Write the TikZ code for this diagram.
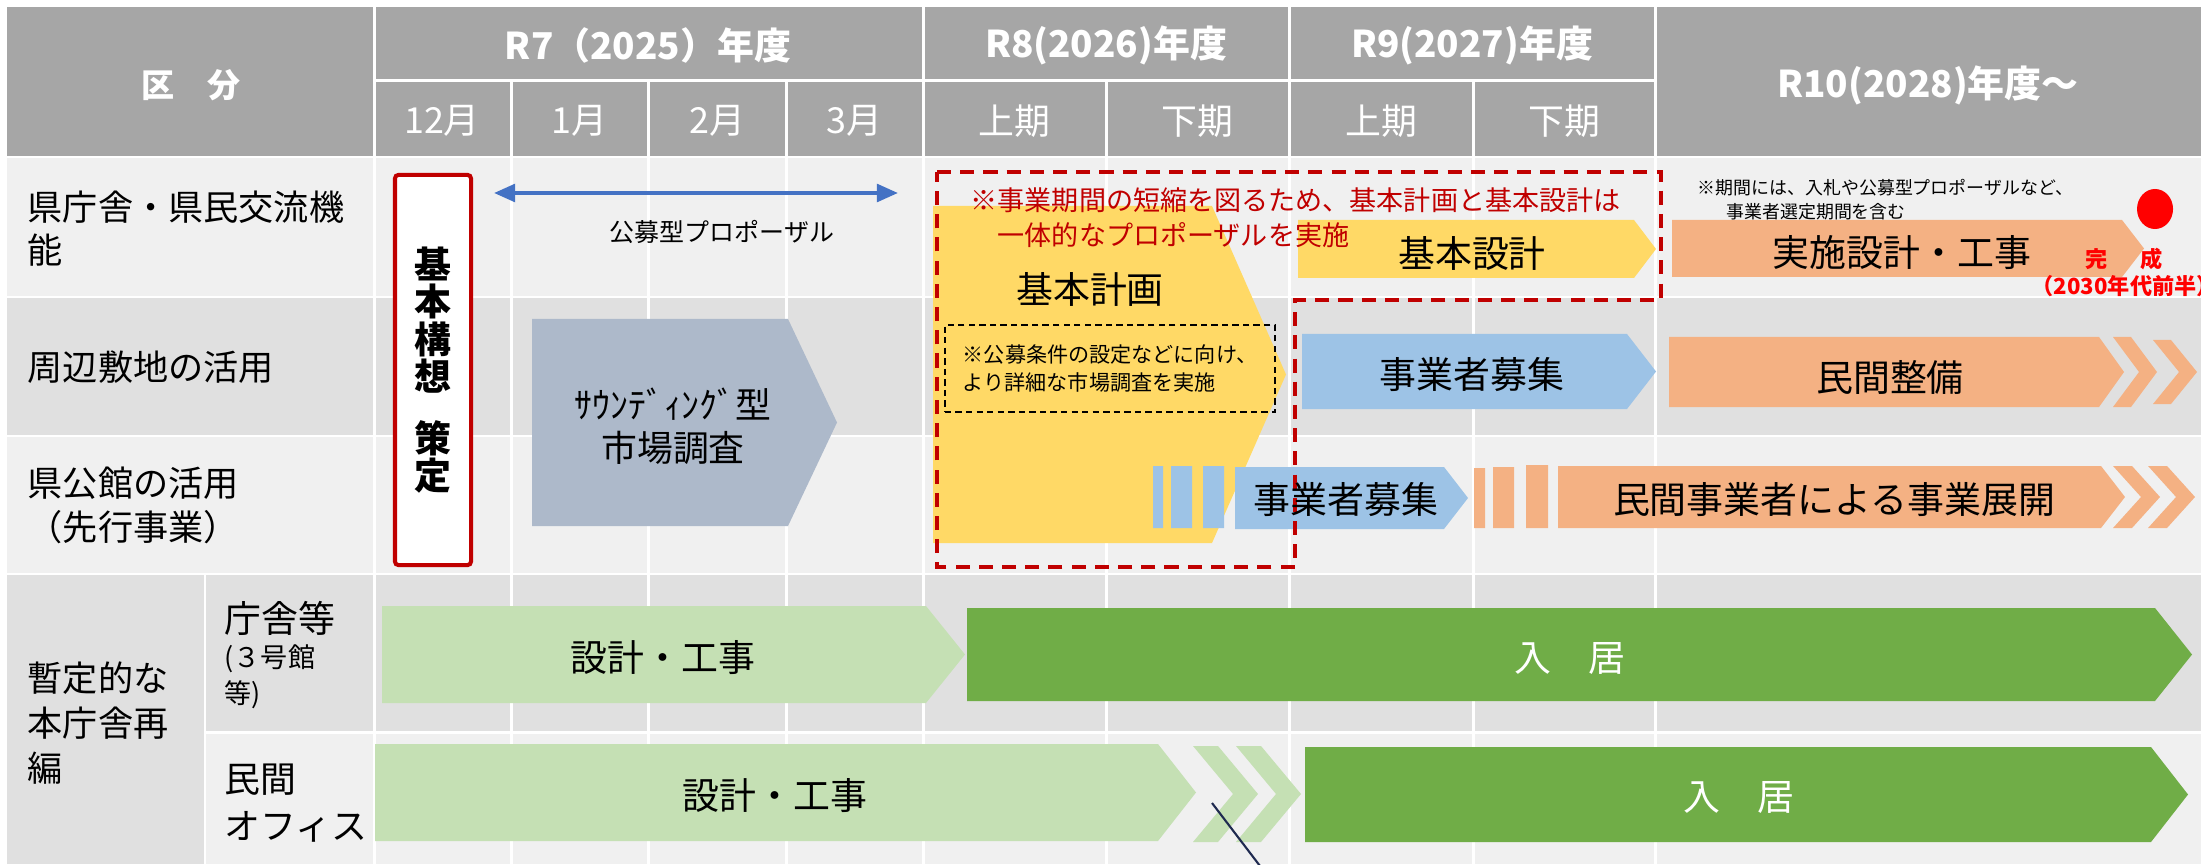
\documentclass[tikz,border=0pt]{standalone}
\usepackage{fontspec}
\setmainfont{Noto Sans CJK JP}
\usetikzlibrary{arrows.meta,shapes.geometric}
\definecolor{haiiro}{HTML}{A6A6A6}
\definecolor{usui}{HTML}{F0F0F0}
\definecolor{koi}{HTML}{E0E0E0}
\definecolor{kiiro}{HTML}{FFD966}
\definecolor{daidai}{HTML}{F4B183}
\definecolor{mizu}{HTML}{9DC3E6}
\definecolor{nezumi}{HTML}{ADB9CA}
\definecolor{wakaba}{HTML}{C5E0B4}
\definecolor{midori}{HTML}{70AD47}
\definecolor{aka}{HTML}{C00000}
\definecolor{beni}{HTML}{FF0000}
\definecolor{ao}{HTML}{4472C4}
\definecolor{kon}{HTML}{1F2A50}
\begin{document}
\begin{tikzpicture}[x=0.01cm, y=-0.01cm,
    midashi/.style={text=white, inner sep=0pt, font=\bfseries\fontsize{10.5}{12}\selectfont},
    tsuki/.style={text=white, inner sep=0pt, font=\fontsize{10.2}{12}\selectfont},
    koumoku/.style={anchor=west, align=left, inner sep=0pt},
    bun/.style={inner sep=0pt, font=\fontsize{10.5}{12}\selectfont},
    chuki/.style={anchor=west, align=left, inner sep=0pt},
    waku/.style={white, line width=0.85pt}
]
\useasboundingbox (0,0) rectangle (2201,864);
% Background
\fill[white] (0,0) rectangle (2201,864);
\fill[haiiro] (7,7) rectangle (2201,156);
\fill[usui] (7,156) rectangle (2201,297);
\fill[koi] (7,297) rectangle (2201,436);
\fill[usui] (7,436) rectangle (2201,574);
\fill[koi] (7,574) rectangle (2201,732);
\fill[usui] (205,732) rectangle (2201,864);
\fill[koi] (7,732) rectangle (205,864);
% Grid
\draw[waku] (7,157) -- (2201,157);
\draw[waku] (7,297) -- (2201,297);
\draw[waku] (7,436) -- (2201,436);
\draw[waku] (7,574) -- (2201,574);
\draw[waku] (205,732) -- (2201,732);
\draw[waku] (374,81) -- (1655,81);
\foreach \x in {374,923,1289,1655} \draw[waku] (\x,7) -- (\x,864);
\foreach \x in {511,648,786,1106,1473} \draw[waku] (\x,81) -- (\x,864);
\draw[waku] (205,574) -- (205,864);
% Header
\node[midashi, font=\bfseries\fontsize{9.4}{11}\selectfont] (kubun) at (191,85) {区　分};
\node[midashi] (r7) at (648,45) {R7（2025）年度};
\node[midashi] (r8) at (1106,45) {R8(2026)年度};
\node[midashi] (r9) at (1472,45) {R9(2027)年度};
\node[midashi] (r10) at (1928,85) {R10(2028)年度～};
\foreach \x/\t [count=\i] in {442/12月,579/1月,717/2月,854/3月,1014/上期,1197/下期,1381/上期,1564/下期}
  \node[tsuki] (tsuki\i) at (\x,121) {\t};
% Row labels
\node[koumoku, font=\fontsize{10}{12.2}\selectfont] (kenchosha) at (27,228.5) {県庁舎・県民交流機\\能};
\node[koumoku, font=\fontsize{10}{12}\selectfont] (shuhen) at (27,367) {周辺敷地の活用};
\node[koumoku, font=\fontsize{10}{12.5}\selectfont] (kenkokan) at (27,505) {県公館の活用\\（先行事業）};
\node[koumoku, font=\fontsize{10}{12.8}\selectfont] (zantei) at (27,723) {暫定的な\\本庁舎再\\編};
\node[koumoku, font=\fontsize{10.5}{12}\selectfont] (chosha) at (224,618) {庁舎等};
\node[koumoku, font=\fontsize{7.7}{10.2}\selectfont] (sangokan) at (224,677) {(３号館\\等)};
\node[koumoku, font=\fontsize{10.2}{13.4}\selectfont] (minkan) at (224,803.5) {民間\\オフィス};
% Bars
\fill[kiiro] (933,206) -- (1212,206) -- (1286,374.5) -- (1212,543) -- (933,543) -- cycle;
\fill[kiiro] (1298,220) -- (1634,220) -- (1656,249) -- (1634,278) -- (1298,278) -- cycle;
\fill[daidai] (1672,220) -- (2122,220) -- (2144,248.5) -- (2122,277) -- (1672,277) -- cycle;
\fill[nezumi] (532,319) -- (788,319) -- (837,422.5) -- (788,526) -- (532,526) -- cycle;
\fill[mizu] (1302,334) -- (1627,334) -- (1656,371.5) -- (1627,409) -- (1302,409) -- cycle;
\fill[daidai] (1669,337) -- (2099,337) -- (2124,372) -- (2099,407) -- (1669,407) -- cycle;
\fill[daidai] (2113,337) -- ++(18,0) -- ++(26,35) -- ++(-26,35) -- ++(-18,0) -- ++(26,-35) -- cycle;
\fill[daidai] (2153,340) -- ++(18,0) -- ++(26,32) -- ++(-26,32) -- ++(-18,0) -- ++(26,-32) -- cycle;
\fill[mizu] (1153,466) rectangle (1163,528) (1171,466) rectangle (1192,528) (1203,466) rectangle (1224,528);
\fill[mizu] (1235,467) -- (1444,467) -- (1468,498) -- (1444,529) -- (1235,529) -- cycle;
\fill[daidai] (1474,468) rectangle (1485,528) (1493,467) rectangle (1514,528) (1526,465) rectangle (1548,528);
\fill[daidai] (1558,466) -- (2101,466) -- (2125,497) -- (2101,528) -- (1558,528) -- cycle;
\fill[daidai] (2113,466) -- ++(19,0) -- ++(28,31) -- ++(-28,31) -- ++(-19,0) -- ++(28,-31) -- cycle;
\fill[daidai] (2148,466) -- ++(19,0) -- ++(28,31) -- ++(-28,31) -- ++(-19,0) -- ++(28,-31) -- cycle;
\fill[wakaba] (382,606) -- (926,606) -- (965,654.5) -- (926,703) -- (382,703) -- cycle;
\fill[midori] (967,608) -- (2155,608) -- (2192,654.5) -- (2155,701) -- (967,701) -- cycle;
\fill[wakaba] (375,744) -- (1158,744) -- (1196,792.5) -- (1158,841) -- (375,841) -- cycle;
\fill[wakaba] (1193,746) -- ++(25,0) -- ++(40,48) -- ++(-40,48) -- ++(-25,0) -- ++(40,-48) -- cycle;
\fill[wakaba] (1236,746) -- ++(25,0) -- ++(40,48) -- ++(-40,48) -- ++(-25,0) -- ++(40,-48) -- cycle;
\fill[midori] (1305,747) -- (2151,747) -- (2188,794.5) -- (2151,842) -- (1305,842) -- cycle;
% Basic concept
\node[draw=aka, line width=1.15pt, fill=white, rounded corners=1pt, minimum width=0.76cm, minimum height=3.9cm,
      align=center, inner sep=0pt, font=\bfseries\fontsize{10.5}{10.7}\selectfont] (koso) at (433,370)
      {基\\本\\構\\想\\[6.7pt]策\\定};
% Proposal range
\draw[aka, line width=1.2pt, dash pattern=on 4pt off 2.6pt] (937,172) -- (1661,172) -- (1661,300) -- (1295,300) -- (1295,567) -- (937,567) -- cycle;
\coordinate (boshuL) at (494,193);
\coordinate (boshuR) at (898,193);
\draw[ao, line width=1.1pt, {Triangle[length=6pt,width=5pt]}-{Triangle[length=6pt,width=5pt]}] (boshuL) -- (boshuR);
% Bar texts
\node[bun] (keikaku) at (1090,289) {基本計画};
\node[bun] (sekkei) at (1472,253) {基本設計};
\node[bun] (jisshi) at (1902,253) {実施設計・工事};
\node[bun, align=center, font=\fontsize{10.2}{12.2}\selectfont] (sounding) at (673,426) {ｻｳﾝﾃﾞｨﾝｸﾞ型\\市場調査};
\node[bun] (boshu1) at (1472,375) {事業者募集};
\node[bun] (seibi) at (1890,377) {民間整備};
\node[bun] (boshu2) at (1346,500) {事業者募集};
\node[bun] (tenkai) at (1834,500) {民間事業者による事業展開};
\node[bun] (sekkei1) at (663,658) {設計・工事};
\node[bun, text=white] (nyukyo1) at (1570,658) {入　居};
\node[bun] (sekkei2) at (775,796) {設計・工事};
\node[bun, text=white] (nyukyo2) at (1739,797) {入　居};
% Notes
\node[bun, font=\fontsize{7.1}{9}\selectfont] (proposal) at (722,232) {公募型プロポーザル};
\node[chuki, text=aka, font=\fontsize{7.7}{10}\selectfont] (tanshuku) at (970,217.5)
      {※事業期間の短縮を図るため、基本計画と基本設計は\\　一体的なプロポーザルを実施};
\node[chuki, font=\fontsize{5.1}{6.8}\selectfont] (kikan) at (1697,200)
      {※期間には、入札や公募型プロポーザルなど、\\\hspace*{1.6em}事業者選定期間を含む};
\node[draw, line width=0.6pt, dash pattern=on 1.8pt off 1.2pt, minimum width=3.3cm, minimum height=0.87cm,
      align=left, inner sep=0pt, font=\fontsize{6}{8}\selectfont] (joken) at (1110,368.5)
      {※公募条件の設定などに向け、\\より詳細な市場調査を実施};
\node[ellipse, fill=beni, minimum width=0.36cm, minimum height=0.4cm, inner sep=0pt] (maru) at (2155,209) {};
\node[inner sep=0pt, text=beni, font=\bfseries\fontsize{6.3}{8}\selectfont] (kansei) at (2124,259) {完\hspace{1.5em}成};
\node[chuki, text=beni, font=\bfseries\fontsize{6.3}{7}\selectfont] (nendai) at (2031,286) {（2030年代前半）};
% Line
\coordinate (senA) at (1212,803);
\coordinate (senB) at (1260,866);
\draw[kon, line width=0.6pt] (senA) -- (senB);
\end{tikzpicture}
\end{document}
